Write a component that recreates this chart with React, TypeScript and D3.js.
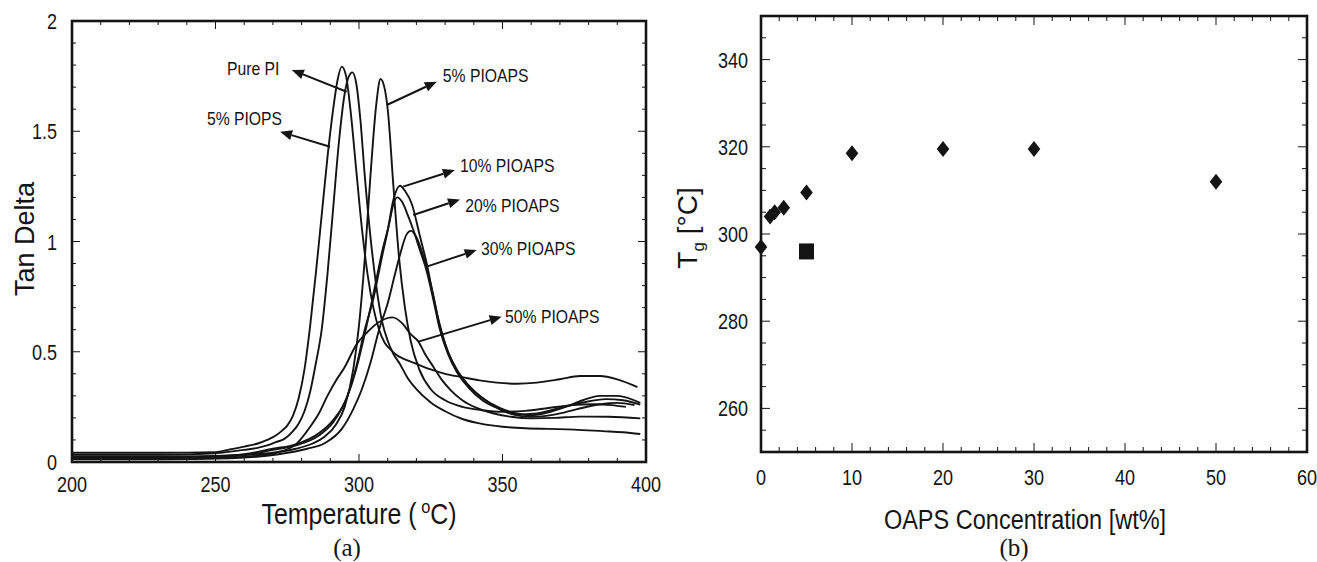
import React from "react";
import * as d3 from "d3";

const W = 1317;
const H = 562;
const SANS = "'Liberation Sans', Arial, sans-serif";
const SERIF = "'Liberation Serif', 'Times New Roman', serif";
const INK = "#141414";

// (a) tan delta vs temperature
const piopsT = [200, 230, 250, 255, 260, 265, 268, 271, 273, 275, 277, 279, 281, 283, 285, 287, 289, 291, 292.5, 294, 295.5, 297, 299, 301, 303, 305, 307, 309, 311, 313, 316, 320, 325, 330, 336, 342, 348, 355, 362, 370, 377, 384, 390, 397];
const piopsV = [0.042, 0.042, 0.045, 0.057, 0.07, 0.085, 0.1, 0.12, 0.14, 0.165, 0.21, 0.29, 0.42, 0.62, 0.86, 1.12, 1.38, 1.6, 1.73, 1.793, 1.75, 1.6, 1.33, 1.06, 0.85, 0.7, 0.6, 0.54, 0.51, 0.486, 0.465, 0.445, 0.42, 0.4, 0.385, 0.37, 0.36, 0.355, 0.36, 0.375, 0.39, 0.39, 0.375, 0.34];

const pureT = [200, 230, 250, 255, 260, 265, 268, 271, 274, 277, 279, 281, 283, 285, 287, 289, 291, 293, 295, 296.5, 297.7, 299, 300.5, 302, 304, 306, 308, 310, 312, 314, 317, 320, 325, 330, 336, 342, 350, 358, 366, 375, 385, 392, 398];
const pureV = [0.033, 0.033, 0.04, 0.047, 0.055, 0.065, 0.075, 0.09, 0.105, 0.14, 0.175, 0.23, 0.32, 0.45, 0.6, 0.85, 1.15, 1.45, 1.67, 1.75, 1.767, 1.72, 1.55, 1.3, 1.02, 0.8, 0.64, 0.55, 0.49, 0.45, 0.38, 0.33, 0.27, 0.23, 0.195, 0.175, 0.16, 0.153, 0.15, 0.147, 0.14, 0.135, 0.127];

const oaps5T = [200, 230, 250, 260, 270, 278, 284, 288, 292, 295, 298, 300, 302, 304, 306, 307.5, 309, 310, 312, 314, 316, 318, 321, 325, 330, 336, 343, 350, 358, 366, 374, 382, 388, 393];
const oaps5V = [0.025, 0.025, 0.028, 0.033, 0.042, 0.06, 0.085, 0.115, 0.17, 0.25, 0.42, 0.62, 0.92, 1.3, 1.62, 1.737, 1.69, 1.6, 1.25, 0.92, 0.7, 0.55, 0.42, 0.33, 0.28, 0.25, 0.235, 0.228, 0.232, 0.245, 0.258, 0.262, 0.258, 0.25];

const oaps10T = [200, 230, 250, 260, 270, 278, 286, 291, 295.7, 299, 302, 305, 308, 310, 312, 314.3, 316, 318.4, 321.3, 323.6, 325.9, 328.2, 331, 334, 338, 343, 349, 355, 360, 366, 372, 378, 384, 390, 398];
const oaps10V = [0.02, 0.02, 0.025, 0.035, 0.06, 0.08, 0.13, 0.19, 0.29, 0.43, 0.6, 0.74, 0.93, 1.05, 1.19, 1.253, 1.23, 1.17, 1.02, 0.9, 0.75, 0.62, 0.5, 0.42, 0.35, 0.29, 0.245, 0.22, 0.212, 0.225, 0.25, 0.28, 0.3, 0.3, 0.268];

const oaps20T = [200, 230, 250, 260, 270, 278, 286, 291, 296, 299, 302, 305, 308, 310.5, 312, 313.3, 315, 317, 319, 321, 323.5, 326, 328, 331, 334, 338, 343, 349, 355, 362, 370, 378, 386, 392, 398];
const oaps20V = [0.018, 0.018, 0.022, 0.03, 0.055, 0.075, 0.12, 0.18, 0.3, 0.42, 0.58, 0.76, 0.95, 1.08, 1.17, 1.2, 1.18, 1.12, 1.05, 0.97, 0.87, 0.73, 0.61, 0.49, 0.41, 0.34, 0.28, 0.24, 0.215, 0.22, 0.245, 0.27, 0.285, 0.28, 0.26];

const oaps30T = [200, 230, 255, 272, 282, 288, 294, 298, 301, 304, 307, 310, 312.5, 314.5, 316.5, 318.1, 320, 322, 324, 326, 328, 331, 334, 338, 343, 349, 354, 360, 368, 376, 384, 390, 396];
const oaps30V = [0.012, 0.012, 0.017, 0.035, 0.06, 0.085, 0.15, 0.24, 0.33, 0.45, 0.6, 0.72, 0.85, 0.95, 1.03, 1.048, 1.02, 0.95, 0.86, 0.75, 0.62, 0.5, 0.42, 0.35, 0.29, 0.24, 0.215, 0.205, 0.215, 0.24, 0.262, 0.268, 0.258];

const oaps50T = [200, 230, 255, 265, 272, 278, 283, 286, 289, 292, 295, 299, 303, 307, 311.7, 315, 318, 320.7, 323, 326, 329, 332, 336, 341, 347, 353, 360, 368, 377, 387, 398];
const oaps50V = [0.015, 0.015, 0.02, 0.03, 0.045, 0.08, 0.16, 0.22, 0.3, 0.37, 0.43, 0.53, 0.59, 0.635, 0.656, 0.63, 0.58, 0.546, 0.49, 0.43, 0.37, 0.325, 0.28, 0.245, 0.22, 0.205, 0.198, 0.2, 0.206, 0.205, 0.198];

const curveT = [piopsT, pureT, oaps5T, oaps10T, oaps20T, oaps30T, oaps50T];
const curveV = [piopsV, pureV, oaps5V, oaps10V, oaps20V, oaps30V, oaps50V];

// labels with arrows: text anchor (T, tanδ), arrow tail and tip (T, tanδ)
const noteText = ["Pure PI", "5% PIOPS", "5% PIOAPS", "10% PIOAPS", "20% PIOAPS", "30% PIOAPS", "50% PIOAPS"];
const noteTextAt = [[254, 1.755], [247, 1.53], [329.2, 1.723], [335.2, 1.317], [337, 1.135], [342.5, 0.939], [350.9, 0.629]];
const noteFrom = [[295.7, 1.679], [289.9, 1.43], [309.7, 1.619], [315.4, 1.249], [318.9, 1.12], [323.6, 0.886], [320.7, 0.546]];
const noteTo = [[276.6, 1.778], [272.5, 1.498], [327.1, 1.725], [333.4, 1.324], [335.2, 1.191], [341, 0.961], [349.7, 0.659]];

const tempTicks = [200, 250, 300, 350, 400];
const tanTicks = [0, 0.5, 1, 1.5, 2];

// (b) Tg vs OAPS concentration
const concX = [0, 1, 1.5, 2.5, 5, 10, 20, 30, 50];
const tgY = [297, 304, 305, 306, 309.5, 318.5, 319.5, 319.5, 312];
const opsX = [5];
const opsY = [296];

const concTicks = [0, 10, 20, 30, 40, 50, 60];
const tgTicks = [260, 280, 300, 320, 340];

// horizontally squeezed text, the figure's type is tall and narrow
function NText({ x, y, size, sx = 0.82, anchor = "start", family = SANS, children }: any) {
  return (
    <text
      transform={`translate(${x},${y}) scale(${sx},1)`}
      textAnchor={anchor}
      fontFamily={family}
      fontSize={size}
      fill={INK}
    >
      {children}
    </text>
  );
}

function Frame({ x, y, xMajor, xMinor, yMajor, yMinor, majorLen, minorLen, sw }: any) {
  const [xl, xr] = x.range();
  const [yb, yt] = y.range();
  const [dx0, dx1] = x.domain();
  const [dy0, dy1] = y.domain();
  const xs: number[] = [];
  for (let i = 0; dx0 + i * xMinor <= dx1 + 1e-9; i++) xs.push(dx0 + i * xMinor);
  const ys: number[] = [];
  for (let i = 0; dy0 + i * yMinor <= dy1 + 1e-9; i++) ys.push(dy0 + i * yMinor);
  const isMajor = (v: number, step: number) => Math.abs(v / step - Math.round(v / step)) < 1e-6;
  return (
    <g stroke={INK} fill="none">
      {xs.map((v, i) => {
        const len = isMajor(v, xMajor) ? majorLen : minorLen;
        const px = x(v);
        return (
          <g key={"x" + i} strokeWidth={1}>
            <line x1={px} x2={px} y1={yb} y2={yb - len} />
            <line x1={px} x2={px} y1={yt} y2={yt + len} />
          </g>
        );
      })}
      {ys.map((v, i) => {
        const len = isMajor(v, yMajor) ? majorLen : minorLen;
        const py = y(v);
        return (
          <g key={"y" + i} strokeWidth={1}>
            <line x1={xl} x2={xl + len} y1={py} y2={py} />
            <line x1={xr} x2={xr - len} y1={py} y2={py} />
          </g>
        );
      })}
      <rect x={xl} y={yt} width={xr - xl} height={yb - yt} strokeWidth={sw} />
    </g>
  );
}

function TanDeltaChart() {
  const x = d3.scaleLinear().domain([200, 400]).range([72, 646]);
  const y = d3.scaleLinear().domain([0, 2]).range([462, 21]);
  const line = d3
    .line<[number, number]>()
    .x((d) => x(d[0]))
    .y((d) => y(d[1]))
    .curve(d3.curveMonotoneX);

  return (
    <g>
      <defs>
        <clipPath id="clipA">
          <rect x={72} y={21} width={574} height={441} />
        </clipPath>
      </defs>
      <g clipPath="url(#clipA)" fill="none" stroke={INK} strokeWidth={1.9} strokeLinejoin="round">
        {curveT.map((ts, i) => (
          <path key={i} d={line(ts.map((t, j) => [t, curveV[i][j]]) as any) || ""} />
        ))}
      </g>

      {noteText.map((txt, i) => {
        const x0 = x(noteFrom[i][0]);
        const y0 = y(noteFrom[i][1]);
        const x1 = x(noteTo[i][0]);
        const y1 = y(noteTo[i][1]);
        const a = Math.atan2(y1 - y0, x1 - x0);
        const hl = 12;
        const hw = 5;
        const bx = x1 - hl * Math.cos(a);
        const by = y1 - hl * Math.sin(a);
        const head = [
          [x1, y1],
          [bx + hw * Math.sin(a), by - hw * Math.cos(a)],
          [bx - hw * Math.sin(a), by + hw * Math.cos(a)],
        ];
        return (
          <g key={txt}>
            <line x1={x0} y1={y0} x2={bx} y2={by} stroke={INK} strokeWidth={2} />
            <polygon points={head.map((p) => p.join(",")).join(" ")} fill={INK} />
            <NText x={x(noteTextAt[i][0])} y={y(noteTextAt[i][1])} size={17.5} sx={0.9}>
              {txt}
            </NText>
          </g>
        );
      })}

      <Frame x={x} y={y} xMajor={50} xMinor={10} yMajor={0.5} yMinor={0.1} majorLen={8} minorLen={4} sw={2.6} />

      {tempTicks.map((t) => (
        <NText key={t} x={x(t)} y={492} size={22} anchor="middle">
          {t}
        </NText>
      ))}
      {tanTicks.map((t) => (
        <NText key={t} x={57} y={y(t) + 8} size={22} anchor="end">
          {String(t)}
        </NText>
      ))}

      <text transform="translate(34,239) rotate(-90)" textAnchor="middle" fontFamily={SANS} fontSize={27} fill={INK}>
        Tan Delta
      </text>
      <NText x={359} y={524} size={29} sx={0.86} anchor="middle">
        Temperature (
        <tspan fontSize={19} dy={-11}>
          {"  o"}
        </tspan>
        <tspan dy={11}>C)</tspan>
      </NText>
      <NText x={347} y={556} size={25} sx={1} anchor="middle" family={SERIF}>
        (a)
      </NText>
    </g>
  );
}

function TgChart() {
  const x = d3.scaleLinear().domain([0, 60]).range([761, 1307]);
  const y = d3.scaleLinear().domain([250, 350]).range([452, 16]);
  const diamond = d3
    .line<[number, number]>()
    .x((d) => d[0])
    .y((d) => d[1]);
  const hw = 6.3;
  const hh = 8;

  return (
    <g>
      <Frame x={x} y={y} xMajor={10} xMinor={2} yMajor={20} yMinor={5} majorLen={9} minorLen={5} sw={2.6} />

      {concX.map((c, i) => {
        const cx = x(c);
        const cy = y(tgY[i]);
        const pts: [number, number][] = [
          [cx, cy - hh],
          [cx + hw, cy],
          [cx, cy + hh],
          [cx - hw, cy],
        ];
        return <path key={i} d={(diamond(pts) || "") + "Z"} fill={INK} />;
      })}
      {opsX.map((c, i) => (
        <rect key={i} x={x(c) - 7.5} y={y(opsY[i]) - 8} width={15} height={16} fill={INK} />
      ))}

      {concTicks.map((t) => (
        <NText key={t} x={x(t)} y={485} size={22} anchor="middle">
          {t}
        </NText>
      ))}
      {tgTicks.map((t) => (
        <NText key={t} x={748} y={y(t) + 8} size={22} anchor="end">
          {t}
        </NText>
      ))}

      <text transform="translate(697,228) rotate(-90)" textAnchor="middle" fontFamily={SANS} fontSize={28} fill={INK}>
        T
        <tspan fontSize={17} dy={7}>
          g
        </tspan>
        <tspan dy={-7}> [°C]</tspan>
      </text>
      <NText x={1025} y={529} size={28} sx={0.84} anchor="middle">
        OAPS Concentration [wt%]
      </NText>
      <NText x={1014} y={556} size={25} sx={1} anchor="middle" family={SERIF}>
        (b)
      </NText>
    </g>
  );
}

export default function App() {
  return (
    <svg
      width={W}
      height={H}
      viewBox={`0 0 ${W} ${H}`}
      style={{ position: "absolute", left: 0, top: 0, background: "#fff", display: "block" }}
    >
      <rect width={W} height={H} fill="#fff" />
      <TanDeltaChart />
      <TgChart />
    </svg>
  );
}
